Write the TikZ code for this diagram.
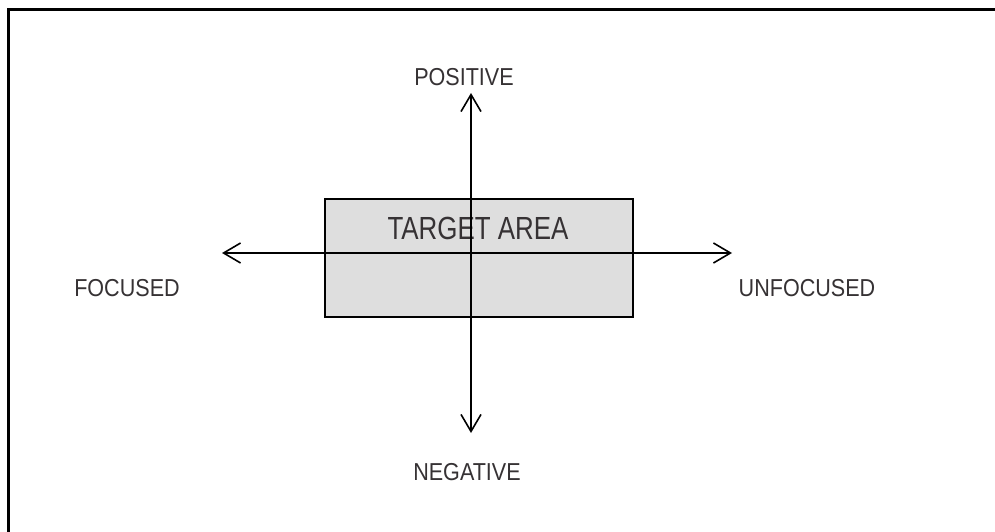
\documentclass[tikz,border=0pt]{standalone}
\usepackage{fontspec}
\setmainfont{Liberation Sans}
\newfontfamily\labelfont[FakeStretch=0.88]{Liberation Sans}
\newfontfamily\areafont[FakeStretch=0.81]{Liberation Sans}
\usetikzlibrary{arrows.meta}
\definecolor{inkgray}{HTML}{363234}
\definecolor{areafill}{HTML}{DEDEDE}
\tikzset{
  axislabel/.style={text=inkgray, inner sep=0pt, font=\labelfont\fontsize{24.5}{24.5}\selectfont},
  areabox/.style={draw=black, line width=2pt, fill=areafill, minimum width=308pt,
    minimum height=118pt, inner sep=0pt},
  axis/.style={line width=1.6pt, {Straight Barb[length=17pt,width=20pt,line width=1.6pt]}-{Straight Barb[length=17pt,width=20pt,line width=1.6pt]}},
}
\begin{document}
\begin{tikzpicture}[x=1pt,y=-1pt]
\useasboundingbox (0,0) rectangle (995,532);
% outer frame, running off the right and bottom edges
\begin{scope}
  \clip (0,0) rectangle (995,532);
  \draw[line width=2.8pt] (8.5,560) -- (8.5,9.5) -- (1010,9.5);
\end{scope}
% central target rectangle
\node[areabox] (target) at (478.5,258) {};
\node[text=inkgray, inner sep=0pt, font=\areafont\fontsize{32}{32}\selectfont] (targetlabel) at (478,228) {TARGET AREA};
% arrow end points
\coordinate (west) at (222,253);
\coordinate (east) at (732,253);
\coordinate (north) at (471,93);
\coordinate (south) at (471,433);
\draw[axis] (west) -- (east);
\draw[axis] (north) -- (south);
% axis labels
\node[axislabel] (positive) at (464,77) {POSITIVE};
\node[axislabel] (negative) at (467,472) {NEGATIVE};
\node[axislabel] (focused) at (127,288) {FOCUSED};
\node[axislabel] (unfocused) at (807,288) {UNFOCUSED};
\end{tikzpicture}
\end{document}
